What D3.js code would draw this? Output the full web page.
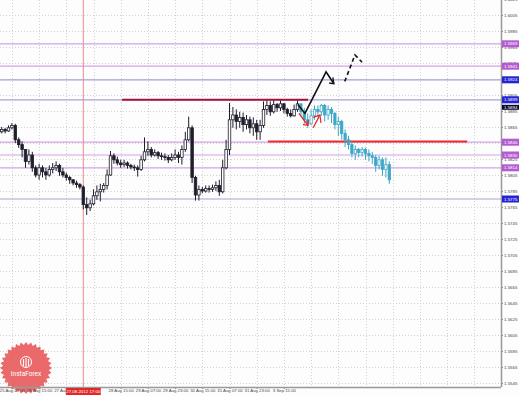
<!DOCTYPE html>
<html>
<head>
<meta charset="utf-8">
<script src="https://cdn.jsdelivr.net/npm/d3@7"></script>
<style>
  body { margin: 0; background: #fff; }
  svg { display: block; }
  .tick text { font-family: "Liberation Sans", sans-serif; }
</style>
</head>
<body>
<svg id="chart" width="519" height="396"></svg>
<script>
// GBPUSD, 2-hour bars, open = previous close
var firstOpen = 1.5859;
var closes = [1.5862, 1.5860, 1.5864, 1.5867, 1.5849, 1.5843, 1.5837, 1.5822, 1.5830, 1.5814,
              1.5805, 1.5814, 1.5809, 1.5805, 1.5812, 1.5814, 1.5817, 1.5809, 1.5805, 1.5802,
              1.5799, 1.5795, 1.5793, 1.5790, 1.5768, 1.5764, 1.5769, 1.5779, 1.5784, 1.5787,
              1.5792, 1.5805, 1.5829, 1.5824, 1.5820, 1.5818, 1.5820, 1.5817, 1.5815, 1.5814,
              1.5812, 1.5824, 1.5834, 1.5837, 1.5830, 1.5833, 1.5829, 1.5828, 1.5827, 1.5824,
              1.5827, 1.5830, 1.5827, 1.5837, 1.5849, 1.5864, 1.5802, 1.5780, 1.5787, 1.5785,
              1.5788, 1.5787, 1.5789, 1.5792, 1.5784, 1.5814, 1.5837, 1.5874, 1.5880, 1.5872,
              1.5877, 1.5868, 1.5874, 1.5864, 1.5869, 1.5859, 1.5867, 1.5887, 1.5892, 1.5884,
              1.5893, 1.5889, 1.5894, 1.5887, 1.5882, 1.5879, 1.5887, 1.5894];
var highs =  [1.5865, 1.5864, 1.5867, 1.5870, 1.5869, 1.5852, 1.5847, 1.5837, 1.5837, 1.5834,
              1.5817, 1.5819, 1.5817, 1.5814, 1.5817, 1.5820, 1.5822, 1.5819, 1.5814, 1.5808,
              1.5804, 1.5800, 1.5798, 1.5795, 1.5792, 1.5777, 1.5774, 1.5787, 1.5792, 1.5794,
              1.5795, 1.5812, 1.5835, 1.5832, 1.5828, 1.5824, 1.5824, 1.5822, 1.5819, 1.5818,
              1.5817, 1.5829, 1.5852, 1.5847, 1.5840, 1.5837, 1.5835, 1.5833, 1.5832, 1.5830,
              1.5832, 1.5837, 1.5834, 1.5842, 1.5859, 1.5878, 1.5867, 1.5804, 1.5792, 1.5790,
              1.5792, 1.5792, 1.5793, 1.5797, 1.5799, 1.5824, 1.5849, 1.5895, 1.5890, 1.5887,
              1.5884, 1.5883, 1.5880, 1.5878, 1.5877, 1.5874, 1.5874, 1.5897, 1.5898, 1.5897,
              1.5898, 1.5895, 1.5898, 1.5895, 1.5889, 1.5887, 1.5893, 1.5898];
var lows =   [1.5857, 1.5857, 1.5859, 1.5862, 1.5845, 1.5839, 1.5827, 1.5814, 1.5818, 1.5809,
              1.5802, 1.5799, 1.5802, 1.5799, 1.5803, 1.5807, 1.5810, 1.5804, 1.5802, 1.5798,
              1.5794, 1.5792, 1.5789, 1.5787, 1.5762, 1.5755, 1.5760, 1.5767, 1.5774, 1.5772,
              1.5783, 1.5787, 1.5804, 1.5819, 1.5817, 1.5814, 1.5815, 1.5813, 1.5812, 1.5810,
              1.5803, 1.5810, 1.5822, 1.5829, 1.5827, 1.5828, 1.5825, 1.5824, 1.5823, 1.5820,
              1.5822, 1.5824, 1.5820, 1.5818, 1.5834, 1.5847, 1.5795, 1.5773, 1.5773, 1.5782,
              1.5783, 1.5783, 1.5784, 1.5785, 1.5779, 1.5782, 1.5812, 1.5830, 1.5864, 1.5862,
              1.5864, 1.5859, 1.5862, 1.5857, 1.5854, 1.5849, 1.5849, 1.5864, 1.5880, 1.5879,
              1.5882, 1.5884, 1.5885, 1.5882, 1.5878, 1.5877, 1.5878, 1.5884];

// forecast bars (cyan)
var fcClose = [1.5884, 1.5874, 1.5869, 1.5879, 1.5887, 1.5884, 1.5892, 1.5880, 1.5887, 1.5882,
               1.5868, 1.5872, 1.5857, 1.5849, 1.5843, 1.5832, 1.5837, 1.5833, 1.5837, 1.5832,
               1.5829, 1.5827, 1.5817, 1.5824, 1.5812, 1.5818, 1.5799];
var fcHigh =  [1.5894, 1.5889, 1.5882, 1.5887, 1.5892, 1.5892, 1.5894, 1.5894, 1.5892, 1.5890,
               1.5884, 1.5878, 1.5874, 1.5862, 1.5854, 1.5848, 1.5842, 1.5839, 1.5840, 1.5839,
               1.5837, 1.5834, 1.5830, 1.5829, 1.5827, 1.5827, 1.5822];
var fcLow =   [1.5879, 1.5869, 1.5864, 1.5867, 1.5874, 1.5877, 1.5879, 1.5872, 1.5874, 1.5870,
               1.5862, 1.5854, 1.5849, 1.5840, 1.5837, 1.5827, 1.5824, 1.5827, 1.5828, 1.5824,
               1.5822, 1.5819, 1.5809, 1.5812, 1.5804, 1.5802, 1.5794];

var priceTicks = [1.5545, 1.5565, 1.5585, 1.5605, 1.5625, 1.5645, 1.5665, 1.5685, 1.5705,
                  1.5725, 1.5745, 1.5765, 1.5785, 1.5805, 1.5825, 1.5845, 1.5865, 1.5885,
                  1.5905, 1.5925, 1.5945, 1.5965, 1.5985, 1.6005, 1.6025];
// the 27 Aug 23:00 label sits under the red time box, so it is not shown
var timeTicks = [3, 11, 19, 35, 43, 51, 59, 67, 75, 83];
var timeLabels = ["25 Aug 23:00", "26 Aug 15:00", "27 Aug 07:00", "28 Aug 15:00",
                  "29 Aug 07:00", "29 Aug 23:00", "30 Aug 15:00", "31 Aug 07:00", "31 Aug 23:00",
                  "3 Sep 15:00"];

// horizontal levels: p = purple, b = blue
var levels = [1.5969, 1.5941, 1.5924, 1.5899, 1.5846, 1.5830, 1.5814, 1.5775];
var levelKinds = ["p", "p", "b", "b", "p", "p", "p", "b"];
var bidPrice = 1.5894;

var vlineIdx = 24;
var vlineLabel = "27.08.2012 17:00";

// drawn objects, [bar index, price]
var resistSeg = [[35.4, 1.5899], [90.1, 1.5899]];
var supportSeg = [[78.3, 1.5847], [136.9, 1.5847]];
var upPath = [[87.1, 1.5893], [89.2, 1.5882], [95.4, 1.5934], [97.7, 1.5919]];
var upHead = [[97.4, 1.5927], [97.7, 1.5919], [96.3, 1.5920]];
var upDash = [[100.9, 1.5922], [103.9, 1.5955], [106.0, 1.5946]];
var red1 = [[87.4, 1.5882], [90.1, 1.5867]];
var red1Head = [[88.6, 1.5868], [90.1, 1.5867], [90.1, 1.5874]];
var red2 = [[91.6, 1.5864], [93.6, 1.5880]];
var red2Head = [[91.6, 1.5877], [93.6, 1.5880], [93.9, 1.5870]];

var W = 501, H = 387;
var svg = d3.select("#chart");

var x = d3.scaleLinear().domain([0, 147]).range([1.7, 1.7 + 147 * 3.4]);
var y = d3.scaleLinear().domain([1.5545, 1.6025]).range([383, -1]);

var bars = closes.map(function(c, i) {
    return { i: i, o: i ? closes[i - 1] : firstOpen, h: highs[i], l: lows[i], c: c };
});
var n0 = bars.length;
var fcBars = fcClose.map(function(c, i) {
    return { i: n0 + i, o: i ? fcClose[i - 1] : closes[n0 - 1], h: fcHigh[i], l: fcLow[i], c: c };
});

svg.append("rect").attr("width", 519).attr("height", 396).attr("fill", "#fdfdfd");

// grid
var grid = svg.append("g").attr("stroke", "#d2d2d2").attr("stroke-dasharray", "1,2");
grid.selectAll("line.h")
    .data(priceTicks)
    .enter().append("line")
    .attr("x1", 0).attr("x2", W)
    .attr("y1", function(d) { return Math.round(y(d)) + 0.5; })
    .attr("y2", function(d) { return Math.round(y(d)) + 0.5; });
grid.selectAll("line.v")
    .data(d3.range(3, 147, 8))
    .enter().append("line")
    .attr("y1", 0).attr("y2", H)
    .attr("x1", function(d) { return Math.round(x(d)) + 0.5; })
    .attr("x2", function(d) { return Math.round(x(d)) + 0.5; });

// levels
svg.selectAll("line.level")
    .data(levels)
    .enter().append("line")
    .attr("x1", 0).attr("x2", W)
    .attr("y1", function(d) { return y(d); })
    .attr("y2", function(d) { return y(d); })
    .attr("stroke", function(d, i) { return levelKinds[i] == "p" ? "#d6a2e6" : "#a4a4d8"; })
    .attr("stroke-width", 1.2);

// vertical line
svg.append("line")
    .attr("x1", x(vlineIdx)).attr("x2", x(vlineIdx))
    .attr("y1", 0).attr("y2", H)
    .attr("stroke", "#f08888").attr("stroke-width", 1);

var line = d3.line()
    .x(function(d) { return x(d[0]); })
    .y(function(d) { return y(d[1]); });

svg.append("path").attr("d", line(resistSeg)).attr("stroke", "#a8103a").attr("stroke-width", 2).attr("fill", "none");
svg.append("path").attr("d", line(supportSeg)).attr("stroke", "#ee2a2a").attr("stroke-width", 2).attr("fill", "none");

function drawCandles(data, color, bw) {
    var g = svg.append("g");
    g.selectAll("line")
        .data(data)
        .enter().append("line")
        .attr("x1", function(d) { return x(d.i); })
        .attr("x2", function(d) { return x(d.i); })
        .attr("y1", function(d) { return y(d.h); })
        .attr("y2", function(d) { return y(d.l); })
        .attr("stroke", color)
        .attr("stroke-width", 1);
    g.selectAll("rect")
        .data(data)
        .enter().append("rect")
        .attr("x", function(d) { return x(d.i) - bw / 2; })
        .attr("width", bw)
        .attr("y", function(d) { return y(Math.max(d.o, d.c)); })
        .attr("height", function(d) { return Math.max(0.8, Math.abs(y(d.o) - y(d.c))); })
        .attr("fill", function(d) { return d.c >= d.o ? "#fff" : color; })
        .attr("stroke", color)
        .attr("stroke-width", 0.8);
}
drawCandles(bars, "#1e1e2c", 2.5);
drawCandles(fcBars, "#3ca8c8", 2.3);

// arrows
function stroke(pts, color, width, dash) {
    svg.append("path").attr("d", line(pts))
        .attr("fill", "none").attr("stroke", color)
        .attr("stroke-width", width)
        .attr("stroke-dasharray", dash || null)
        .attr("stroke-linejoin", "miter");
}
stroke(upPath, "#111", 1.6);
stroke(upHead, "#111", 1.3);
stroke(upDash, "#111", 1.6, "4,3");
stroke(red1, "#ee2020", 1.3);
stroke(red1Head, "#ee2020", 1.2);
stroke(red2, "#ee2020", 1.3);
stroke(red2Head, "#ee2020", 1.2);

// watermark
var badge = svg.append("g").attr("transform", "translate(26,368)");
var teeth = d3.range(0, 64).map(function(k) {
    return [k * Math.PI / 32, k % 2 ? 23 : 26];
});
badge.append("path")
    .attr("d", d3.lineRadial().curve(d3.curveLinearClosed)(teeth))
    .attr("fill", "#e85a5c").attr("opacity", 0.9);
badge.append("circle").attr("cx", 0).attr("cy", -6).attr("r", 5.5)
    .attr("fill", "none").attr("stroke", "#fff").attr("stroke-width", 1);
badge.append("path").attr("d", "M-2.5,-9 L-2.5,-2 M0,-10 L0,-1 M2.5,-9 L2.5,-2")
    .attr("stroke", "#fff").attr("stroke-width", 1.1);
badge.append("text").attr("y", 8).attr("text-anchor", "middle")
    .attr("font-family", "Roboto, sans-serif").attr("font-size", "6.5px")
    .attr("fill", "#fff").text("InstaForex");

// axes
var yAxis = d3.axisRight(y).tickValues(priceTicks).tickSize(2).tickFormat(d3.format(".4f"));
var gy = svg.append("g").attr("transform", "translate(" + W + ",0)").call(yAxis);
gy.select(".domain").remove();
gy.selectAll("line").attr("stroke", "#888");
gy.selectAll("text").attr("font-size", "4.4px").attr("fill", "#444").attr("x", 3);

var xAxis = d3.axisBottom(x).tickValues(timeTicks).tickSize(2)
    .tickFormat(function(d, i) { return timeLabels[i]; });
var gx = svg.append("g").attr("transform", "translate(0," + H + ")").call(xAxis);
gx.select(".domain").remove();
gx.selectAll("line").attr("stroke", "#888");
gx.selectAll("text").attr("font-size", "4.3px").attr("fill", "#444").attr("dy", "0.6em").attr("y", 2.5);

svg.append("line").attr("x1", W + 0.5).attr("x2", W + 0.5).attr("y1", 0).attr("y2", H)
    .attr("stroke", "#999").attr("stroke-width", 1.5);
svg.append("line").attr("x1", 0).attr("x2", W).attr("y1", H + 0.5).attr("y2", H + 0.5)
    .attr("stroke", "#999").attr("stroke-width", 1.5);

// level price boxes
var boxes = svg.selectAll("g.lbox")
    .data(levels)
    .enter().append("g")
    .attr("transform", function(d) { return "translate(" + (W + 1) + "," + y(d) + ")"; });
boxes.append("rect").attr("x", 0).attr("y", -3.5).attr("width", 17).attr("height", 7)
    .attr("fill", function(d, i) { return levelKinds[i] == "p" ? "#b45ad2" : "#2424d4"; });
boxes.append("text").attr("x", 2).attr("y", 1.6)
    .attr("font-family", "Liberation Sans, sans-serif").attr("font-size", "4.4px").attr("fill", "#fff")
    .text(function(d) { return d3.format(".4f")(d); });

var bid = svg.append("g").attr("transform", "translate(" + (W + 1) + "," + (y(bidPrice) + 3.5) + ")");
bid.append("rect").attr("y", -2.5).attr("width", 17).attr("height", 5).attr("fill", "#0a0a30");
bid.append("text").attr("x", 2).attr("y", 1.6)
    .attr("font-family", "Liberation Sans, sans-serif").attr("font-size", "4.4px").attr("fill", "#fff")
    .text(d3.format(".4f")(bidPrice));

// vertical line time box
var vb = svg.append("g").attr("transform", "translate(" + x(vlineIdx) + "," + (H + 1) + ")");
vb.append("rect").attr("x", -17.5).attr("width", 35).attr("height", 7).attr("fill", "#e02828");
vb.append("text").attr("y", 5.2).attr("text-anchor", "middle")
    .attr("font-family", "Liberation Sans, sans-serif").attr("font-size", "4.4px").attr("fill", "#fff")
    .text(vlineLabel);
</script>
</body>
</html>
